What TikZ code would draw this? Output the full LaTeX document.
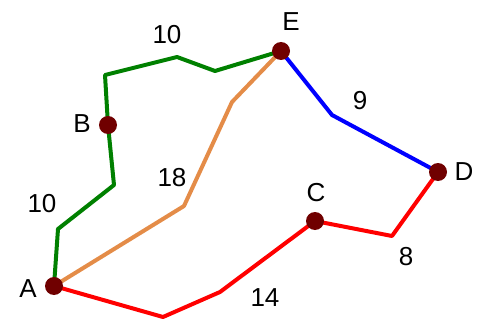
\documentclass[tikz,border=0pt]{standalone}
\usepackage{fontspec}
\setmainfont{Liberation Sans}
\usetikzlibrary{backgrounds}
\definecolor{dotred}{RGB}{112,0,0}
\definecolor{egreen}{RGB}{0,128,0}
\definecolor{eorange}{RGB}{228,140,72}
\definecolor{eblue}{RGB}{0,0,255}
\definecolor{ered}{RGB}{255,0,0}
\begin{document}
\begin{tikzpicture}[x=1pt,y=-1pt,
  dot/.style={circle,fill=dotred,inner sep=0pt,minimum size=18pt},
  lbl/.style={font=\fontsize{26}{26}\selectfont,inner sep=0pt},
  edge/.style={line width=4pt,line join=round,line cap=round}]
\useasboundingbox (0,0) rectangle (485,321);
\node[dot] (A) at (54,286) {};
\node[dot] (B) at (108,125) {};
\node[dot] (C) at (315,221) {};
\node[dot] (D) at (438,172) {};
\node[dot] (E) at (281,51) {};
\node[lbl] (lA) at (28,289) {A};
\node[lbl] (lB) at (82,124) {B};
\node[lbl] (lC) at (316,193) {C};
\node[lbl] (lD) at (464,172) {D};
\node[lbl] (lE) at (291,22) {E};
\node[lbl] (w1) at (42,204) {10};
\node[lbl] (w2) at (167,35) {10};
\node[lbl] (w3) at (172,178) {18};
\node[lbl] (w4) at (360,101) {9};
\node[lbl] (w5) at (406,257) {8};
\node[lbl] (w6) at (265,298) {14};
\begin{scope}[on background layer]
\draw[edge,egreen] (A.center) -- (58,229) -- (114,185) -- (B.center);
\draw[edge,egreen] (B.center) -- (105,75) -- (177,57) -- (215,71) -- (E.center);
\draw[edge,eorange] (A.center) -- (184,206) -- (232,102) -- (E.center);
\draw[edge,eblue] (E.center) -- (332,115) -- (D.center);
\draw[edge,ered] (A.center) -- (163,317) -- (220,292) -- (C.center);
\draw[edge,ered] (C.center) -- (392,236) -- (D.center);
\end{scope}
\end{tikzpicture}
\end{document}
